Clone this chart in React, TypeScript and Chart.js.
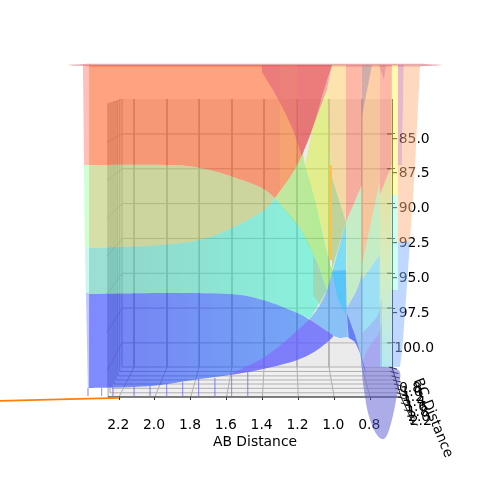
import React, { useEffect, useRef } from "react";
import { Chart, registerables } from "chart.js";

Chart.register(...registerables);

// ---- axes ----
const abTicks = [2.2, 2.0, 1.8, 1.6, 1.4, 1.2, 1.0, 0.8];
const energyTicks = [-85, -87.5, -90, -92.5, -95, -97.5, -100];
const bcTickLabels = ["0.8", "1.0", "1.2", "1.4", "1.6", "1.8", "2.0", "2.2"];
const bcLabelAB = [0.577, 0.569, 0.56, 0.551, 0.543, 0.534, 0.526, 0.517];
const bcLabelE = [-103.23, -103.58, -103.93, -104.28, -104.63, -104.98, -105.32, -105.67];
const bcTitleAB = 0.449;
const bcTitleE = -105.39;

// ---- box ----
const backAB = [2.116, 1.932, 1.753, 1.57, 1.391, 1.207, 1.029, 0.845];
const wallBackAB = 2.183;
const wallFrontAB = 2.267;
const wallRightAB = 0.681;
const topE = -82.49;
const floorBackE = -101.73;
const floorFrontE = -103.88;
const wallFrontE = [-85.6, -88.34, -91.09, -93.75, -96.5, -99.24, -101.99];
const bcLeftAB = [2.183, 2.196, 2.207, 2.217, 2.228, 2.239, 2.25, 2.261];
const bcRightAB = [0.678, 0.67, 0.663, 0.656, 0.649, 0.642, 0.634, 0.627];
const bcFloorE = [-101.73, -102.05, -102.37, -102.66, -102.95, -103.26, -103.58, -103.88];
const bcTopE = [-82.49, -82.54, -82.59, -82.64, -82.69, -82.75, -82.8, -82.85];
const bcChainAB = [0.611, 0.594, 0.577, 0.56];
const bcChainE = [-104.31, -104.81, -105.25, -105.75];

// ---- stray line ----
const traceAB = [2.9, 2.2];
const traceE = [-104.17, -103.95];

// ---- surface stubs below the sheet ----
const stubAB = [2.373, 2.297, 2.234, 2.116, 2.027, 1.934, 1.845, 1.756, 1.665, 1.572, 1.482];
const stubTopE = [-103.23, -103.23, -103.23, -103.16, -103.09, -102.95, -102.8, -102.59, -102.52, -102.3, -102.09];
const stubBottomE = -103.81;

// ---- surface regions (AB, energy) ----
const sliverAB = [2.501, 2.367, 0.521, 0.382, 0.521, 2.367];
const sliverE = [-80.05, -79.96, -79.96, -80.05, -80.15, -80.15];
const edgePinkAB = [2.401, 2.367, 2.367, 2.395];
const edgePinkE = [-80.05, -80.05, -87.23, -87.23];
const edgeGreenAB = [2.395, 2.367, 2.367, 2.39];
const edgeGreenE = [-87.23, -87.23, -93.11, -93.11];
const edgeCyanAB = [2.39, 2.367, 2.367, 2.384];
const edgeCyanE = [-93.11, -93.11, -96.41, -96.41];
const edgeBlueAB = [2.384, 2.367, 2.367, 2.373];
const edgeBlueE = [-96.41, -96.41, -103.23, -103.23];

const orangeAB = [2.367, 1.012, 1.062, 1.118, 1.174, 1.207, 1.246, 1.33, 1.414, 1.598, 1.748, 1.932, 2.367];
const orangeE = [-80.05, -80.05, -82.06, -84.5, -86.36, -87.23, -88.09, -89.59, -88.8, -87.94, -87.44, -87.23, -87.23];
const amberAB = [1.302, 1.207, 1.207, 1.302];
const amberE = [-80.05, -80.05, -87.23, -89.02];
const redAB = [1.403, 1.012, 1.062, 1.118, 1.174, 1.18, 1.23, 1.319, 1.403];
const redE = [-80.05, -80.05, -82.06, -84.5, -86.36, -86.65, -84.71, -82.34, -80.55];
const rustAB = [1.012, 1.04, 1.118, 1.062];
const rustE = [-80.05, -81.84, -84.5, -82.06];
const oliveAB = [2.367, 1.932, 1.748, 1.598, 1.414, 1.33, 1.414, 1.693, 1.971, 2.367];
const oliveE = [-87.23, -87.23, -87.44, -87.94, -88.8, -89.59, -90.67, -92.39, -92.97, -93.18];
const cyanAB = [2.367, 1.971, 1.693, 1.414, 1.33, 1.191, 1.096, 1.04, 1.135, 1.207, 1.397, 1.581, 1.932, 2.367];
const cyanE = [-93.18, -92.97, -92.39, -90.67, -89.59, -91.75, -94.19, -96.2, -98.28, -97.85, -96.92, -96.49, -96.41, -96.49];
const sageTipAB = [1.118, 1.096, 1.04, 1.079, 1.118];
const sageTipE = [-93.69, -94.19, -96.2, -97.28, -96.56];
const blueAB = [2.367, 1.932, 1.581, 1.397, 1.207, 1.135, 1.007, 1.007, 1.096, 1.207, 1.397, 1.581, 1.787, 1.971, 2.116, 2.367];
const blueE = [-96.49, -96.41, -96.49, -96.92, -97.85, -98.35, -99.43, -99.57, -100.51, -101.22, -101.87, -102.3, -102.66, -103.02, -103.16, -103.23];
const indigoAB = [1.581, 1.397, 1.246, 1.135, 1.007, 1.007, 1.096, 1.207, 1.397, 1.581];
const indigoE = [-102.23, -101.08, -99.57, -98.28, -99.43, -99.57, -100.51, -101.22, -101.87, -102.3];
const skyAB = [1.135, 1.079, 1.04, 1.012, 1.007, 0.934, 0.929, 0.929, 0.968, 1.001, 1.007];
const skyE = [-98.28, -97.28, -96.2, -94.91, -94.76, -94.76, -97.28, -99.57, -99.65, -99.5, -99.43];
const greenAB = [1.33, 1.246, 1.207, 1.174, 1.163, 1.107, 1.023, 1.007, 1.04, 1.096, 1.191];
const greenE = [-89.59, -88.09, -87.23, -86.36, -87.23, -89.74, -94.4, -94.76, -96.2, -94.19, -91.75];
const yellowAB = [1.04, 1.018, 1.023, 1.107, 1.163, 1.118];
const yellowE = [-81.84, -87.23, -94.19, -89.74, -87.23, -84.5];
const sandAB = [1.012, 0.934, 0.934, 1.012, 1.018, 1.04];
const sandE = [-80.05, -80.05, -91.32, -88.16, -87.23, -81.84];
const sageAB = [1.012, 0.934, 1.012];
const sageE = [-88.16, -91.32, -94.76];
const wedgeAB = [0.934, 0.934, 1.007];
const wedgeE = [-91.32, -94.76, -94.76];
const wedgeLowAB = [1.012, 0.934, 0.934, 0.978];
const wedgeLowE = [-94.91, -94.76, -97.99, -96.92];
const paleGreenAB = [0.934, 0.845, 0.845, 0.867, 0.929];
const paleGreenE = [-91.32, -88.66, -94.76, -95.98, -97.49];
const pinkAB = [0.934, 0.845, 0.845, 0.934];
const pinkE = [-80.05, -80.05, -88.66, -91.32];
const peachAB = [0.845, 0.745, 0.745, 0.845];
const peachE = [-80.05, -80.05, -88.45, -94.4];
const lilacAB = [0.845, 0.789, 0.845];
const lilacE = [-80.05, -80.05, -83.78];
const lilacSmallAB = [0.749, 0.711, 0.722];
const lilacSmallE = [-80.05, -80.05, -81.12];
const mintAB = [0.745, 0.745, 0.845, 0.845];
const mintE = [-88.45, -93.69, -95.48, -94.4];
const azureAB = [0.929, 0.867, 0.845, 0.845, 0.856, 0.884, 0.929];
const azureE = [-97.49, -95.98, -94.76, -101.8, -100.72, -99.93, -99.57];
const skyPaleAB = [0.845, 0.745, 0.745, 0.845];
const skyPaleE = [-95.48, -93.69, -101.73, -101.73];
const periwinkleAB = [0.845, 0.8, 0.756, 0.739, 0.733, 0.733, 0.845];
const periwinkleE = [-99.29, -98.71, -98.0, -96.92, -96.92, -101.73, -101.73];
const lavenderAB = [0.845, 0.828, 0.789, 0.756, 0.739, 0.733, 0.733, 0.845];
const lavenderE = [-101.8, -100.86, -100, -99.43, -98.71, -98.71, -101.73, -101.73];
const pink2AB = [0.745, 0.678, 0.678, 0.745];
const pink2E = [-80.05, -80.05, -87.23, -89.38];
const tanAquaAB = [0.745, 0.678, 0.678, 0.745];
const tanAquaE = [-89.38, -87.23, -101.73, -101.73];
const lemonAB = [0.678, 0.644, 0.644, 0.678];
const lemonE = [-80.05, -80.05, -89.38, -89.38];
const iceAB = [0.678, 0.644, 0.644, 0.678];
const iceE = [-89.38, -89.38, -96.2, -96.2];
const mauveAB = [0.644, 0.611, 0.622, 0.644];
const mauveE = [-80.05, -80.05, -87.23, -87.23];
const apricotAB = [0.611, 0.521, 0.549, 0.577, 0.644, 0.644, 0.622];
const apricotE = [-80.05, -80.05, -87.23, -92.75, -92.75, -87.23, -87.23];
const paleBlueAB = [0.644, 0.577, 0.588, 0.616, 0.633, 0.678, 0.678, 0.644];
const paleBlueE = [-92.75, -92.75, -94.76, -99.79, -101.73, -101.73, -96.2, -96.2];
const lobeAB = [0.845, 0.839, 0.811, 0.772, 0.733, 0.705, 0.678, 0.655, 0.633, 0.717];
const lobeE = [-101.73, -102.88, -105.03, -106.39, -106.9, -106.61, -105.53, -104.1, -102.09, -101.73];
const spikeAB = [0.929, 0.884, 0.851, 0.817, 0.834, 0.856, 0.884, 0.918];
const spikeE = [-97.85, -99.43, -100.86, -102.3, -101.8, -100.72, -99.93, -99.65];
const seamAB = [1.018, 1.018];
const seamE = [-87.23, -94.05];

const DEJAVU = "'DejaVu Sans'";
const GRID = "rgb(176,176,176)";

const zip = (ab: number[], e: number[]) => ab.map((x, i) => ({ x, y: e[i] }));

const line = (data: { x: number; y: number }[], color: string, width = 1) => ({
  data,
  showLine: true,
  borderColor: color,
  borderWidth: width,
  pointRadius: 0,
  clip: false,
  tension: 0,
});

const poly = (ab: number[], e: number[], color: string | string[], smooth: number[] = [], vertical = false) => ({
  data: zip(ab, e),
  showLine: false,
  pointRadius: 0,
  clip: false,
  polyFill: color,
  polySmooth: smooth,
  polyVertical: vertical,
});

const e = (a: number, b: number) => [a, b];

function buildDatasets() {
  const out: any[] = [];
  // panes
  out.push(poly([wallBackAB, wallRightAB, wallRightAB, wallBackAB], [topE, topE, floorBackE, floorBackE], "rgb(235,235,235)"));
  out.push(poly([wallFrontAB, wallBackAB, wallBackAB, bcLeftAB[7]], [bcTopE[7], topE, floorBackE, floorFrontE], "rgb(240,240,240)"));
  out.push(poly([bcLeftAB[0], bcRightAB[0], bcRightAB[7], bcLeftAB[7]], [floorBackE, floorBackE, floorFrontE, floorFrontE], "rgb(240,240,240)"));
  // grid
  backAB.forEach((b, i) => {
    out.push(line(zip([b, b, abTicks[i]], [topE, floorBackE, floorFrontE]), GRID));
  });
  energyTicks.forEach((t, i) => {
    out.push(line(zip([wallRightAB, wallBackAB, wallFrontAB], [t, t, wallFrontE[i]]), GRID));
  });
  out.push(line(zip([wallBackAB, wallFrontAB], e(topE, bcTopE[7])), GRID, 0.6));
  bcLeftAB.forEach((l, i) => {
    out.push(line(zip([l, l], e(bcTopE[i], bcFloorE[i])), GRID, 0.5));
    out.push(line(zip([l, bcRightAB[i]], e(bcFloorE[i], bcFloorE[i])), i === 7 ? "#555" : GRID, i === 7 ? 1.5 : 1));
  });
  // BC axis and ticks
  out.push(line(zip([bcRightAB[0], bcRightAB[7]], e(floorBackE, floorFrontE)), "#222"));
  out.push(line(zip([bcRightAB[7], bcChainAB[3]], e(floorFrontE, bcChainE[3])), "#222"));
  bcRightAB.forEach((r, i) => {
    out.push(line(zip([r + 0.017, r - 0.028], e(bcFloorE[i], bcFloorE[i] - 0.15)), "#222"));
  });
  bcChainAB.forEach((r, i) => {
    out.push(line(zip([r + 0.017, r - 0.028], e(bcChainE[i], bcChainE[i] - 0.15)), "#222"));
  });
  energyTicks.forEach((t) => {
    out.push(line(zip([0.705, 0.678], e(t, t)), "#111"));
  });
  // stubs
  stubAB.forEach((s, i) => {
    out.push(line(zip([s, s], e(stubTopE[i], stubBottomE)), "rgba(110,110,240,0.35)"));
  });
  // surface
  out.push(poly(sliverAB, sliverE, "rgba(200,100,110,0.55)"));
  out.push(poly(edgePinkAB, edgePinkE, "rgba(255,129,113,0.5)"));
  out.push(poly(edgeGreenAB, edgeGreenE, "rgba(161,255,161,0.5)"));
  out.push(poly(edgeCyanAB, edgeCyanE, "rgba(145,241,225,0.5)"));
  out.push(poly(edgeBlueAB, edgeBlueE, "rgba(129,145,255,0.5)"));
  out.push(poly(orangeAB, orangeE, "rgba(255,70,0,0.5)", [2, 3, 4, 5, 6, 8, 9, 10, 11]));
  out.push(poly(amberAB, amberE, "rgba(255,210,100,0.2)"));
  out.push(poly(redAB, redE, "rgba(217,85,120,0.5)", [2, 3, 4, 6, 7]));
  out.push(poly(rustAB, rustE, "rgba(230,90,80,0.5)"));
  out.push(poly(oliveAB, oliveE, "rgba(174,192,80,0.5)", [1, 2, 3, 4, 6, 7, 8]));
  out.push(poly(cyanAB, cyanE, ["rgba(58,188,166,0.5)", "rgba(40,250,208,0.5)"], [1, 2, 3, 5, 6, 9, 10, 11, 12]));
  out.push(poly(sageTipAB, sageTipE, "rgba(200,170,110,0.35)"));
  out.push(poly(blueAB, blueE, ["rgba(0,20,255,0.5)", "rgba(0,110,255,0.5)"], [1, 2, 3, 4, 5, 8, 9, 10, 11, 12, 13, 14]));
  out.push(poly(indigoAB, indigoE, "rgba(136,88,255,0.5)", [1, 2, 6, 7, 8]));
  out.push(poly(skyAB, skyE, "rgba(40,150,255,0.5)", [1, 2, 3]));
  out.push(poly(greenAB, greenE, ["rgba(160,224,80,0.5)", "rgba(112,240,64,0.5)"], [1, 2, 5, 9]));
  out.push(poly(yellowAB, yellowE, "rgba(218,240,48,0.5)"));
  out.push(line(zip(seamAB, seamE), "#ffc040", 2));
  out.push(poly(sandAB, sandE, "rgba(251,199,93,0.5)"));
  out.push(poly(sageAB, sageE, "rgba(144,192,80,0.5)"));
  out.push(poly(wedgeAB, wedgeE, "rgba(16,208,255,0.5)"));
  out.push(poly(wedgeLowAB, wedgeLowE, "rgba(16,208,255,0.4)"));
  out.push(poly(paleGreenAB, paleGreenE, "rgba(160,240,160,0.5)"));
  out.push(poly(pinkAB, pinkE, "rgba(255,113,81,0.5)"));
  out.push(poly(peachAB, peachE, "rgba(255,161,81,0.5)"));
  out.push(poly(lilacAB, lilacE, "rgba(120,110,170,0.35)"));
  out.push(poly(lilacSmallAB, lilacSmallE, "rgba(120,110,170,0.35)"));
  out.push(poly(mintAB, mintE, "rgba(160,240,160,0.5)"));
  out.push(poly(azureAB, azureE, "rgba(80,160,255,0.5)", [1, 4, 5]));
  out.push(poly(skyPaleAB, skyPaleE, "rgba(80,214,255,0.5)"));
  out.push(poly(periwinkleAB, periwinkleE, "rgba(160,160,248,0.5)", [1, 2]));
  out.push(poly(lavenderAB, lavenderE, "rgba(176,144,232,0.5)", [1, 2, 3]));
  out.push(poly(pink2AB, pink2E, "rgba(255,113,81,0.5)"));
  out.push(poly(tanAquaAB, tanAquaE, ["rgba(234,208,80,0.5)", "rgba(190,240,150,0.5)", "rgba(130,230,250,0.5)"], [], true));
  out.push(poly(lemonAB, lemonE, "rgba(255,249,97,0.5)"));
  out.push(poly(iceAB, iceE, "rgba(160,255,225,0.5)"));
  out.push(poly(mauveAB, mauveE, "rgba(209,113,145,0.5)"));
  out.push(poly(apricotAB, apricotE, "rgba(255,177,129,0.5)", [2]));
  out.push(poly(paleBlueAB, paleBlueE, "rgba(129,177,255,0.5)", [2, 3]));
  out.push(poly(lobeAB, lobeE, "rgba(90,90,210,0.5)", [1, 2, 3, 4, 5, 6, 7, 8]));
  out.push(poly(spikeAB, spikeE, "rgba(30,40,250,0.45)"));
  // stray line
  out.push(line(zip(traceAB, traceE), "#ff7f0e", 1.6));
  return out.reverse(); // the last dataset is painted first
}

const polyPlugin = {
  id: "polyFill",
  beforeDatasetDraw(chart: any, args: any) {
    const ds = chart.data.datasets[args.index];
    if (!ds.polyFill) return;
    const pts = args.meta.data;
    const n = pts.length;
    const soft = new Set<number>(ds.polySmooth);
    const ctx = chart.ctx;
    ctx.save();
    ctx.beginPath();
    ctx.moveTo(pts[0].x, pts[0].y);
    for (let k = 0; k < n; k++) {
      const i = k;
      const j = (k + 1) % n;
      const a = pts[i];
      const b = pts[j];
      const before = soft.has(i) ? pts[(i - 1 + n) % n] : a;
      const after = soft.has(j) ? pts[(j + 1) % n] : b;
      ctx.bezierCurveTo(
        a.x + (b.x - before.x) / 6,
        a.y + (b.y - before.y) / 6,
        b.x - (after.x - a.x) / 6,
        b.y - (after.y - a.y) / 6,
        b.x,
        b.y,
      );
    }
    ctx.closePath();
    if (Array.isArray(ds.polyFill)) {
      const xs = pts.map((p: any) => p.x);
      const ys = pts.map((p: any) => p.y);
      const g = ds.polyVertical
        ? ctx.createLinearGradient(0, Math.min(...ys), 0, Math.max(...ys))
        : ctx.createLinearGradient(Math.min(...xs), 0, Math.max(...xs), 0);
      ds.polyFill.forEach((c: string, i: number) => g.addColorStop(i / (ds.polyFill.length - 1), c));
      ctx.fillStyle = g;
    } else {
      ctx.fillStyle = ds.polyFill;
    }
    ctx.fill();
    ctx.restore();
  },
};

const bcTextPlugin = {
  id: "bcText",
  beforeDatasetsDraw(chart: any) {
    const { ctx, scales } = chart;
    ctx.save();
    ctx.fillStyle = "#000";
    ctx.font = `13.9px ${DEJAVU}`;
    ctx.textAlign = "center";
    ctx.textBaseline = "middle";
    bcTickLabels.forEach((t, i) => {
      ctx.fillText(t, scales.x.getPixelForValue(bcLabelAB[i]), scales.y.getPixelForValue(bcLabelE[i]));
    });
    ctx.translate(scales.x.getPixelForValue(bcTitleAB), scales.y.getPixelForValue(bcTitleE));
    ctx.rotate((68 * Math.PI) / 180);
    ctx.fillText("BC Distance", 0, 0);
    ctx.restore();
  },
};

export default function App() {
  const ref = useRef<HTMLCanvasElement>(null);
  useEffect(() => {
    document.body.style.margin = "0";
    const chart = new Chart(ref.current as HTMLCanvasElement, {
      type: "scatter",
      data: { datasets: buildDatasets() },
      plugins: [polyPlugin, bcTextPlugin],
      options: {
        animation: false,
        responsive: false,
        devicePixelRatio: 1,
        layout: { padding: { left: 118, top: 99, bottom: 129, right: 0 } },
        plugins: { legend: { display: false }, tooltip: { enabled: false } },
        scales: {
          x: {
            type: "linear",
            reverse: true,
            min: 0.6774,
            max: 2.2056,
            position: { y: floorFrontE },
            afterBuildTicks: (s: any) => {
              s.ticks = abTicks.map((value) => ({ value }));
            },
            afterFit: (s: any) => {
              s.height -= 17;
            },
            grid: { drawOnChartArea: false, color: "#333", tickLength: 3 },
            border: { display: false },
            ticks: {
              autoSkip: false,
              maxRotation: 0,
              minRotation: 0,
              color: "#000",
              padding: 17,
              labelOffset: -0.8,
              font: { family: DEJAVU, size: 13.9 },
              callback: (v: any) => Number(v).toFixed(1),
            },
            title: {
              display: true,
              text: "AB Distance",
              color: "#000",
              padding: 0,
              font: { family: DEJAVU, size: 13.9 },
            },
          } as any,
          y: {
            type: "linear",
            position: "right",
            min: floorBackE,
            max: topE,
            afterBuildTicks: (s: any) => {
              s.ticks = energyTicks.map((value) => ({ value }));
            },
            afterFit: (s: any) => {
              s.width = 108;
            },
            grid: { drawOnChartArea: false, color: "#111", tickLength: 3 },
            border: { display: true, color: "#222", width: 1 },
            ticks: {
              autoSkip: false,
              crossAlign: "center",
              padding: -12.3,
              labelOffset: 5,
              color: "#000",
              font: { family: DEJAVU, size: 13.9 },
              callback: (v: any) => "\u2212" + Math.abs(Number(v)).toFixed(1),
            },
          } as any,
        },
      },
    } as any);
    return () => chart.destroy();
  }, []);
  return (
    <canvas
      ref={ref}
      width={500}
      height={496}
      style={{ display: "block", position: "absolute", left: 0, top: 0, width: 500, height: 496 }}
    />
  );
}
